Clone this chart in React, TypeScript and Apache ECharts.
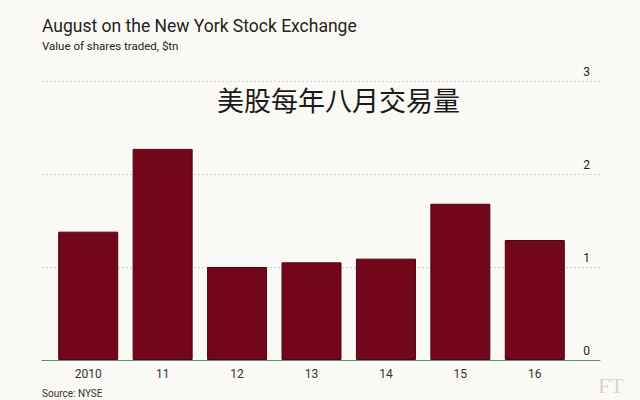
import React, { useEffect, useRef } from "react";
import * as echarts from "echarts";

const categories = ["2010", "11", "12", "13", "14", "15", "16"];
const values = [1.38, 2.27, 1.0, 1.05, 1.09, 1.68, 1.29];
const yTicks = [0, 1, 2, 3];

const TITLE = "August on the New York Stock Exchange";
const SUBTITLE = "Value of shares traded, $tn";
const OVERLAY = "美股每年八月交易量";
const SOURCE = "Source: NYSE";

export default function App() {
  const ref = useRef<HTMLDivElement>(null);
  useEffect(() => {
    if (!ref.current) return;
    const chart = echarts.init(ref.current, undefined, { renderer: "svg" });
    const yMax = yTicks[yTicks.length - 1];
    chart.setOption({
      animation: false,
      backgroundColor: "#fbf9f5",
      grid: [
        { left: 51, right: 68, top: 81, bottom: 40 },
        { left: 42, right: 40, top: 81, bottom: 40 },
      ],
      xAxis: [
        {
          gridIndex: 0,
          type: "category",
          data: categories,
          axisLine: { show: false },
          axisTick: { show: false },
          axisLabel: { color: "#333", fontSize: 12, margin: 8, fontFamily: "Roboto" },
        },
        {
          gridIndex: 1,
          type: "value",
          min: 0,
          max: 1,
          axisLine: { show: true, lineStyle: { color: "#4f9a5c", width: 1 } },
          axisTick: { show: false },
          axisLabel: { show: false },
          splitLine: { show: false },
        },
      ],
      yAxis: [
        {
          gridIndex: 0,
          type: "value",
          min: 0,
          max: yMax,
          interval: 1,
          show: false,
        },
        {
          gridIndex: 1,
          type: "value",
          position: "right",
          min: 0,
          max: yMax,
          interval: 1,
          axisLine: { show: false },
          axisTick: { show: false },
          axisLabel: {
            inside: true,
            margin: 10,
            verticalAlign: "bottom",
            padding: [0, 0, 3, 0],
            color: "#222",
            fontSize: 12,
            fontFamily: "Roboto",
          },
          splitLine: { lineStyle: { color: "#cfcfcf", type: [2, 2], width: 1 } },
        },
      ],
      series: [
        {
          type: "bar",
          xAxisIndex: 0,
          yAxisIndex: 0,
          data: values,
          barWidth: 60,
          itemStyle: { color: "#72061b", borderColor: "#4d0412", borderWidth: 1 },
        },
      ],
      graphic: [
        {
          type: "text",
          left: 42,
          top: 17,
          style: { text: TITLE, fontSize: 17.5, fill: "#1e2420", fontFamily: "Roboto" },
        },
        {
          type: "text",
          left: 42,
          top: 40,
          style: { text: SUBTITLE, fontSize: 11.5, fill: "#222", fontFamily: "Roboto" },
        },
        {
          type: "text",
          left: 217,
          top: 86,
          style: { text: OVERLAY, fontSize: 27, fill: "#1a1a1a", fontFamily: "Noto Sans CJK SC" },
        },
        {
          type: "text",
          left: 42,
          top: 388,
          style: { text: SOURCE, fontSize: 10, fill: "#333", fontFamily: "Roboto" },
        },
        {
          type: "text",
          left: 598,
          top: 374,
          style: { text: "FT", fontSize: 22, fill: "#d8d4cc", fontFamily: "Liberation Serif" },
        },
      ],
    });
    return () => chart.dispose();
  }, []);
  return (
    <div
      ref={ref}
      style={{ position: "fixed", left: 0, top: 0, width: 640, height: 400 }}
    />
  );
}
